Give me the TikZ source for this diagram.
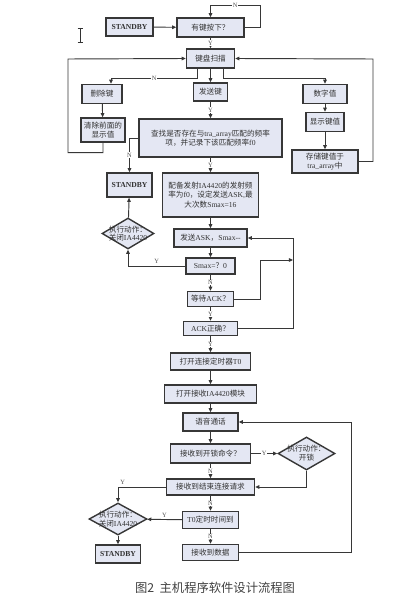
\documentclass[tikz,border=0pt]{standalone}
\usepackage{fontspec}
\setmainfont{Liberation Serif}
\newfontfamily\cjk{Noto Sans CJK SC}
\newcommand{\zh}[1]{{\cjk #1}}
\usetikzlibrary{arrows.meta,calc,shapes.geometric}
\definecolor{boxfill}{RGB}{228,231,243}
\definecolor{edge}{RGB}{55,55,55}
\tikzset{
  bx/.style 2 args={draw=edge, line width=1.2pt, fill=boxfill, inner sep=1pt, align=center,
    minimum width=#1*0.03cm, minimum height=#2*0.03cm, font=\fontsize{6.5}{8}\selectfont, text=black!80},
  dmd/.style 2 args={diamond, draw=edge, line width=1.2pt, fill=boxfill, inner sep=0pt,
    minimum width=#1*0.03cm, minimum height=#2*0.03cm},
  dtxt/.style={align=center, font=\fontsize{6.5}{7.5}\selectfont, text=black!80},
  arr/.style={draw=edge, line width=0.8pt, -{Triangle[length=3.5pt,width=3pt]}},
  yn/.style={fill=white, inner sep=0.5pt, font=\fontsize{5.5}{6}\selectfont, text=black!70},
  sb/.style={font=\bfseries\fontsize{6.5}{8}\selectfont}
}
\begin{document}
\begin{tikzpicture}[x=0.03cm, y=-0.03cm]
    \useasboundingbox (0,0) rectangle (410,600);

    % cursor mark
    \draw[line width=0.8pt, black!80] (80,28) -- (80,42) (77.5,28) -- (82.5,28) (77.5,42) -- (82.5,42);

    % key input part
    \node[bx={47}{18}, sb] (sb1) at (129.5,27) {STANDBY};
    \node[bx={67}{19}] (key) at (210.5,27.5) {\zh{有键按下？}};
    \node[bx={48}{19}] (scan) at (210.5,58.5) {\zh{键盘扫描}};
    \node[bx={40}{19}] (del) at (102,94) {\zh{删除键}};
    \node[bx={34}{18}] (send) at (210.5,92) {\zh{发送键}};
    \node[bx={44}{19}] (num) at (325,94) {\zh{数字值}};
    \node[bx={44}{24}] (clr) at (103,130) {\zh{清除前面的}\\\zh{显示值}};
    \node[bx={38}{19}] (show) at (325,122) {\zh{显示键值}};
    \node[bx={66}{23}] (store) at (325,161.5) {\zh{存储键值于}\\tra\_array\zh{中}};

    \draw[arr] (sb1) -- (key);
    \draw[arr] (key.east) -| (260,5) -| node[yn, pos=0.25] {N} (key.north);
    \draw[arr] (key) -- node[yn] {Y} (scan);
    \draw[arr] ($(scan.south)+(-13,0)$) -- ++(0,10) -| node[yn, pos=0.25] {N} ($(del.north)+(9,0)$);
    \draw[arr] (scan) -- (send);
    \draw[arr] ($(scan.south)+(13,0)$) -- ++(0,10) -| (num.north);
    \draw[arr] (del) -- (clr);
    \draw[arr] (num) -- (show);
    \draw[arr] (show) -- (store);
    \draw[arr] (clr.south) -- ++(0,10) -| (68,59) -- (scan.west);
    \draw[arr] (store.east) -| (373,59) -- (scan.east);

    % send part
    \node[bx={143}{38}] (find) at (210.5,138) {\zh{查找是否存在与}tra\_array\zh{匹配的频率}\\\zh{项，并记录下该匹配频率}f0};
    \node[bx={45}{24}, sb] (sb2) at (129.5,185) {STANDBY};
    \node[bx={96}{44}] (cfg) at (210.5,195) {\zh{配备发射}IA4420\zh{的发射频}\\\zh{率为}f0\zh{，设定发送}ASK,\zh{最}\\\zh{大次数}Smax=16};
    \node[bx={73}{18}] (ask) at (210.5,238) {\zh{发送}ASK\zh{，}Smax-{}-};
    \node[dmd={52}{31}, label={[dtxt]center:{\zh{执行动作：}\\\zh{关闭}IA4420}}] (d1) at (128,233.5) {};
    \node[bx={49}{16}] (smax) at (210.5,266) {Smax=\zh{？}0};
    \node[bx={46}{15}] (wait) at (210.5,299) {\zh{等待}ACK\zh{？}};
    \node[bx={54}{14}] (ackok) at (210.5,328.5) {ACK\zh{正确？}};
    \coordinate (join) at (293,260);

    \draw[arr] (send) -- node[yn] {Y} (find);
    \draw[arr] (find.west) -| node[yn, pos=0.75] {N} (sb2.north);
    \draw[arr] (find) -- node[yn] {Y} (cfg);
    \draw[arr] (cfg) -- (ask);
    \draw[arr] (ask) -- (smax);
    \draw[arr] (smax.west) -| node[yn, pos=0.25, above=1pt, fill=none] {Y} (d1.south);
    \draw[arr] (d1) -- (sb2);
    \draw[arr] (smax) -- node[yn] {N} (wait);
    \draw[arr] (wait) -- node[yn] {Y} (ackok);
    \draw[arr] (wait.east) -| (260,260) -- (join);
    \draw[arr] (ackok.east) -| (join |- ask.east) -- (ask.east);

    % receive part
    \node[bx={80}{17}] (t0on) at (210.5,361.5) {\zh{打开连接定时器}T0};
    \node[bx={92}{18}] (rxon) at (210.5,394) {\zh{打开接收}IA4420\zh{模块}};
    \node[bx={55}{18}] (talk) at (210.5,422) {\zh{语音通话}};
    \node[bx={80}{19}] (unlock) at (210.5,453.5) {\zh{接收到开锁命令？}};
    \node[dmd={57}{33}, label={[dtxt]center:{\zh{执行动作：}\\\zh{开锁}}}] (d2) at (306.5,453.5) {};
    \node[bx={88}{16}] (fin) at (210.5,487) {\zh{接收到结束连接请求}};
    \node[dmd={58}{32}, label={[dtxt]center:{\zh{执行动作：}\\\zh{关闭}IA4420}}] (d3) at (118,519) {};
    \node[bx={56}{17}] (t0) at (210.5,520) {T0\zh{定时时间到}};
    \node[bx={45}{18}, sb] (sb3) at (118,554) {STANDBY};
    \node[bx={56}{16}] (data) at (210.5,552.5) {\zh{接收到数据}};

    \draw[arr] (ackok) -- node[yn] {Y} (t0on);
    \draw[arr] (t0on) -- (rxon);
    \draw[arr] (rxon) -- (talk);
    \draw[arr] (talk) -- (unlock);
    \draw[arr] (unlock) -- node[yn] {Y} (d2);
    \draw[arr] (d2.south) |- (fin.east);
    \draw[arr] (unlock) -- node[yn] {N} (fin);
    \draw[arr] (fin.west) -| node[yn, pos=0.45, above=1pt, fill=none] {Y} (d3.north);
    \draw[arr] (fin) -- node[yn] {N} (t0);
    \draw[arr] (t0) -- node[yn, above=1pt, fill=none] {Y} (d3);
    \draw[arr] (d3) -- (sb3);
    \draw[arr] (t0) -- node[yn] {N} (data);
    \draw[arr] (data.east) -| ($(talk.east)+(113,0)$) -- (talk.east);

    \node[font=\cjk\fontsize{10.5}{12}\selectfont, text=black!75] (cap) at (215,588) {图2\ \ 主机程序软件设计流程图};
\end{tikzpicture}
\end{document}
